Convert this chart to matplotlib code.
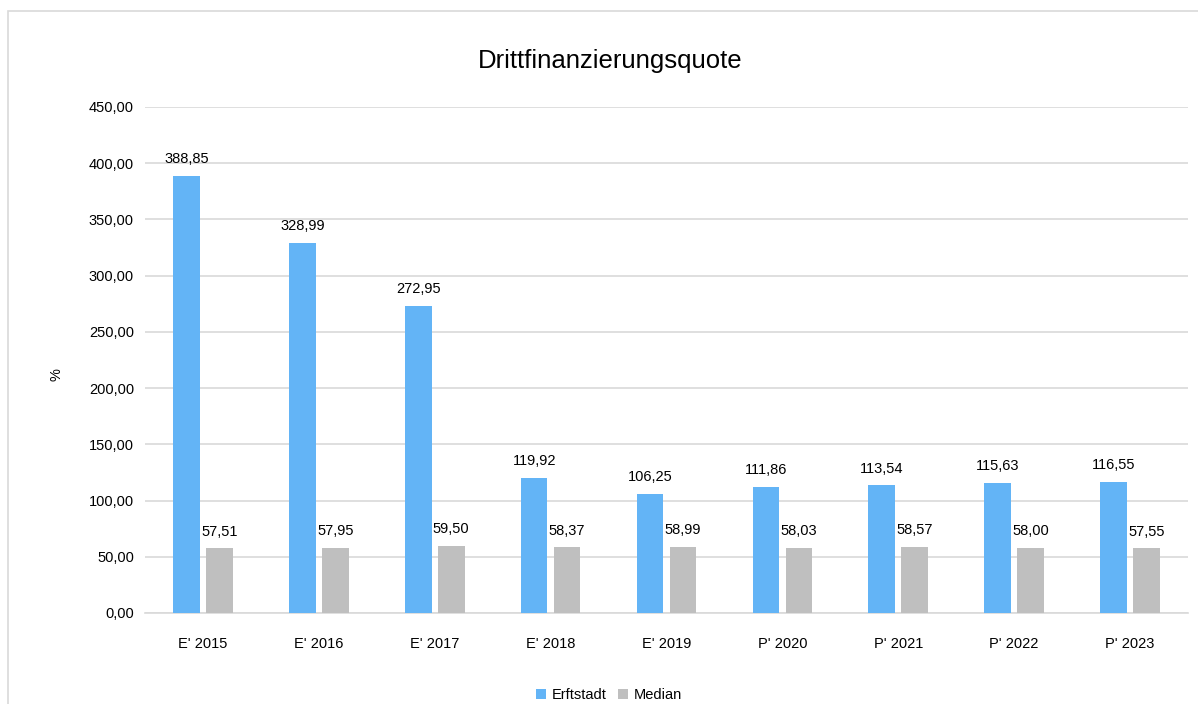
import matplotlib
matplotlib.use("Agg")
import matplotlib.pyplot as plt
from matplotlib.patches import Rectangle
from matplotlib.ticker import FuncFormatter
import numpy as np

plt.rcParams['font.family'] = ['Liberation Sans', 'DejaVu Sans']

categories = ["E' 2015", "E' 2016", "E' 2017", "E' 2018", "E' 2019",
              "P' 2020", "P' 2021", "P' 2022", "P' 2023"]
erftstadt = [388.85, 328.99, 272.95, 119.92, 106.25, 111.86, 113.54, 115.63, 116.55]
median = [57.51, 57.95, 59.50, 58.37, 58.99, 58.03, 58.57, 58.00, 57.55]

def de(v):
    return f"{v:.2f}".replace(".", ",")

fig = plt.figure(figsize=(11.98, 7.04), dpi=100)
fig.patches.append(Rectangle((8/1198, -0.01), 1.1, 1 - 11/704 + 0.01,
                             transform=fig.transFigure, fill=False,
                             edgecolor='#d9d9d9', linewidth=1.2))
ax = fig.add_axes([145/1198, 1 - 613/704, (1188-145)/1198, (613-107)/704])

x = np.arange(len(categories))
w = 0.23
off = 0.142
b1 = ax.bar(x - off, erftstadt, w, color='#63b4f6', label='Erftstadt', zorder=3)
b2 = ax.bar(x + off, median, w, color='#bfbfbf', label='Median', zorder=3)

for rect, v in zip(b1, erftstadt):
    ax.annotate(de(v), (rect.get_x() + rect.get_width()/2, v), xytext=(0, 7),
                textcoords='offset points', ha='center', va='bottom', fontsize=10.5)
for rect, v in zip(b2, median):
    ax.annotate(de(v), (rect.get_x() + rect.get_width()/2, v), xytext=(0, 7),
                textcoords='offset points', ha='center', va='bottom', fontsize=10.5)

ax.set_xlim(-0.5, len(categories) - 0.5)
ax.set_ylim(0, 450)
ax.set_yticks(np.arange(0, 451, 50))
ax.yaxis.set_major_formatter(FuncFormatter(lambda v, p: de(v)))
ax.set_xticks(x)
ax.set_xticklabels(categories)
ax.tick_params(axis='both', length=0, labelsize=10.5, colors='black')
ax.tick_params(axis='x', pad=17)
ax.tick_params(axis='y', pad=8)
ax.grid(axis='y', color='#d9d9d9', linewidth=1.2, zorder=0)
for s in ['top', 'right', 'left']:
    ax.spines[s].set_visible(False)
ax.spines['bottom'].set_color('#d9d9d9')
ax.spines['bottom'].set_linewidth(1.2)

ax.set_ylabel('%', fontsize=10.5)
ax.yaxis.set_label_coords((64 - 145) / 1043, (613 - 375) / 506)
fig.text(610/1198, 1 - 61/704, 'Drittfinanzierungsquote',
         ha='center', va='center', fontsize=18.5)

fig.legend(handles=[b1, b2], labels=['Erftstadt', 'Median'], loc='center',
           bbox_to_anchor=(609/1198, 1 - 695/704), ncol=2, frameon=False,
           fontsize=10.5, handlelength=0.7, handleheight=0.7, handletextpad=0.4,
           columnspacing=0.8)

fig.savefig('out.png', dpi=100)
